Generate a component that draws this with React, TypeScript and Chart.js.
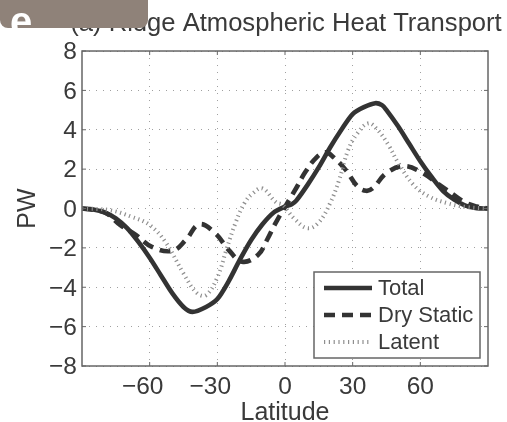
import React, { useEffect, useRef } from "react";
import { Chart, registerables } from "chart.js";

Chart.register(...registerables);

const FONT = '"Liberation Sans", Arial, sans-serif';
const titleText = "(a) Ridge Atmospheric Heat Transport";
const xAxisLabel = "Latitude";
const yAxisLabel = "PW";
const xTickValues = [-60, -30, 0, 30, 60];
const yTickValues = [-8, -6, -4, -2, 0, 2, 4, 6, 8];
const seriesNames = ["Total", "Dry Static", "Latent"];

const totalLat = [-90, -85, -80, -75, -70, -65, -60, -55, -50, -45, -41, -35, -30, -25, -20, -15, -10, -5, 0, 3, 5, 10, 15, 20, 25, 30, 35, 40, 43, 45, 50, 55, 60, 65, 70, 75, 80, 85, 90];
const totalVal = [0, -0.05, -0.2, -0.5, -1.0, -1.7, -2.5, -3.4, -4.3, -5.0, -5.25, -5.0, -4.6, -3.7, -2.6, -1.6, -0.8, -0.2, 0.1, 0.22, 0.4, 1.2, 2.1, 3.1, 4.0, 4.8, 5.15, 5.35, 5.25, 5.0, 4.2, 3.3, 2.4, 1.6, 0.9, 0.45, 0.15, 0.02, 0];

const dryLat = [-90, -80, -73, -66, -59, -50, -44, -38, -31, -25, -19, -12, -8, -4, 5, 9, 14, 18, 21, 27, 32, 36, 39, 45, 53, 61, 68, 75, 80, 85, 90];
const dryVal = [0, -0.2, -0.84, -1.35, -1.95, -2.15, -1.6, -0.8, -1.25, -2.1, -2.7, -2.36, -1.6, -0.7, 1.04, 1.85, 2.6, 2.85, 2.66, 1.95, 1.14, 0.9, 1.04, 1.8, 2.16, 1.8, 1.24, 0.68, 0.3, 0.1, 0];

const latentLat = [-90, -78, -68, -60, -53, -45, -39, -35, -30, -26, -22, -18, -14, -10, -4, -1, 4, 10, 15, 20, 24, 28, 32, 37, 41, 46, 50, 57, 64, 72, 80, 90];
const latentVal = [0, -0.08, -0.42, -0.84, -1.7, -3.3, -4.3, -4.4, -3.5, -2.1, -0.75, 0.27, 0.8, 1.02, 0.32, 0.18, -0.5, -1.0, -0.7, 0.27, 1.45, 2.97, 3.8, 4.33, 4.0, 3.2, 2.36, 1.2, 0.6, 0.27, 0.08, 0];

const zip = (xs: number[], ys: number[]) => xs.map((x, i) => ({ x, y: ys[i] }));
const minus = (v: number | string) => String(v).replace("-", "\u2212");

const INK = "#3a3a3a";
const FRAME = "#666666";
const GRID = "#a0a0a0";
const seriesDash = [[], [11, 7], [1.2, 3.6]];
const seriesWidth = [4.6, 4.6, 4];
const seriesColor = ["#333333", "#333333", "#8f8f8f"];

const framePlugin = {
  id: "frame",
  afterDatasetsDraw(chart: any) {
    const { ctx, chartArea: a, scales } = chart;
    ctx.save();
    ctx.strokeStyle = FRAME;
    ctx.lineWidth = 1.5;
    ctx.strokeRect(a.left, a.top, a.right - a.left, a.bottom - a.top);
    ctx.lineWidth = 1;
    ctx.beginPath();
    xTickValues.forEach((v) => {
      const p = scales.x.getPixelForValue(v);
      ctx.moveTo(p, a.bottom);
      ctx.lineTo(p, a.bottom - 4);
      ctx.moveTo(p, a.top);
      ctx.lineTo(p, a.top + 4);
    });
    yTickValues.forEach((v) => {
      const p = scales.y.getPixelForValue(v);
      ctx.moveTo(a.left, p);
      ctx.lineTo(a.left + 4, p);
      ctx.moveTo(a.right, p);
      ctx.lineTo(a.right - 4, p);
    });
    ctx.stroke();
    ctx.restore();
  },
};

const legendPlugin = {
  id: "boxLegend",
  afterDraw(chart: any) {
    const { ctx } = chart;
    const left = 314;
    const top = 272;
    const w = 166;
    const h = 86;
    ctx.save();
    ctx.fillStyle = "#ffffff";
    ctx.fillRect(left, top, w, h);
    ctx.strokeStyle = FRAME;
    ctx.lineWidth = 1.5;
    ctx.strokeRect(left, top, w, h);
    ctx.font = `22px ${FONT}`;
    ctx.textBaseline = "middle";
    seriesNames.forEach((name, i) => {
      const y = top + 16 + i * 27;
      ctx.beginPath();
      ctx.setLineDash(seriesDash[i]);
      ctx.lineWidth = seriesWidth[i];
      ctx.strokeStyle = seriesColor[i];
      ctx.moveTo(324, y);
      ctx.lineTo(372, y);
      ctx.stroke();
      ctx.setLineDash([]);
      ctx.fillStyle = INK;
      ctx.fillText(name, 378, y + 1);
    });
    ctx.restore();
  },
};

const coverPlugin = {
  id: "cover",
  afterDraw(chart: any) {
    const { ctx } = chart;
    ctx.save();
    ctx.fillStyle = "#8f8279";
    ctx.beginPath();
    ctx.roundRect(0, -10, 148, 38, [0, 0, 8, 8]);
    ctx.fill();
    ctx.beginPath();
    ctx.rect(0, 0, 60, 28);
    ctx.clip();
    ctx.fillStyle = "#ffffff";
    ctx.font = `bold 40px ${FONT}`;
    ctx.textBaseline = "alphabetic";
    ctx.fillText("e", 10, 35);
    ctx.restore();
  },
};

// The title runs wider than the plot, the minus signs hang left of the x ticks,
// and the y labels sit slightly below their grid lines.
const placementPlugin = {
  id: "placement",
  afterLayout(chart: any) {
    chart.titleBlock.left = 70;
    chart.titleBlock.right = 502;
  },
  afterUpdate(chart: any) {
    chart.scales.x.getLabelItems().forEach((item: any) => {
      if (String(item.label).startsWith("\u2212")) item.options.translation[0] -= 7;
    });
    chart.scales.y.getLabelItems().forEach((item: any) => {
      item.options.translation[1] += 1.5;
    });
  },
};

export default function App() {
  const ref = useRef<HTMLCanvasElement>(null);
  useEffect(() => {
    const chart = new Chart(ref.current!, {
      type: "line",
      data: {
        datasets: [
          { label: seriesNames[2], data: zip(latentLat, latentVal), borderColor: seriesColor[2], borderWidth: seriesWidth[2], borderDash: seriesDash[2], tension: 0.4, pointRadius: 0 },
          { label: seriesNames[1], data: zip(dryLat, dryVal), borderColor: seriesColor[1], borderWidth: seriesWidth[1], borderDash: seriesDash[1], tension: 0.4, pointRadius: 0 },
          { label: seriesNames[0], data: zip(totalLat, totalVal), borderColor: seriesColor[0], borderWidth: seriesWidth[0], tension: 0.3, pointRadius: 0 },
        ],
      },
      options: {
        responsive: false,
        animation: false,
        layout: { padding: { left: 0, right: 19, top: 0, bottom: 0 } },
        plugins: {
          legend: { display: false },
          tooltip: { enabled: false },
          title: {
            display: true,
            text: titleText,
            fullSize: false,
            color: INK,
            font: { family: FONT, size: 25.6, weight: "normal", lineHeight: 1.2 },
            padding: { top: 9, bottom: 11.3 },
          },
        },
        scales: {
          x: {
            type: "linear",
            min: -90,
            max: 90,
            afterBuildTicks: (s: any) => {
              s.ticks = xTickValues.map((value) => ({ value }));
            },
            afterFit: (s: any) => {
              s.height = 56;
            },
            grid: { color: GRID, lineWidth: 1, tickLength: 0, drawTicks: false },
            border: { display: false, dash: [1, 6] },
            ticks: {
              color: INK,
              padding: 7,
              maxRotation: 0,
              font: { family: FONT, size: 24.5 },
              callback: (v: any) => minus(v),
            },
            title: { display: true, text: xAxisLabel, color: INK, padding: { top: 0, bottom: -4 }, font: { family: FONT, size: 25, lineHeight: 1 } },
          },
          y: {
            type: "linear",
            min: -8,
            max: 8,
            afterBuildTicks: (s: any) => {
              s.ticks = yTickValues.map((value) => ({ value }));
            },
            afterFit: (s: any) => {
              s.width = 82;
            },
            grid: { color: GRID, lineWidth: 1, drawTicks: false, tickLength: 0 },
            border: { display: false, dash: [1, 6] },
            ticks: {
              color: INK,
              padding: 5,
              font: { family: FONT, size: 24.5 },
              callback: (v: any) => minus(v),
            },
            title: { display: true, text: yAxisLabel, color: INK, padding: { top: 15.5, bottom: 0 }, font: { family: FONT, size: 25, lineHeight: 1 } },
          },
        },
      },
      plugins: [placementPlugin, framePlugin, legendPlugin, coverPlugin],
    } as any);
    return () => chart.destroy();
  }, []);
  return (
    <div style={{ position: "absolute", left: 0, top: 0, width: 507, height: 422, background: "#fff" }}>
      <canvas ref={ref} width={507} height={422} style={{ display: "block" }} />
    </div>
  );
}
